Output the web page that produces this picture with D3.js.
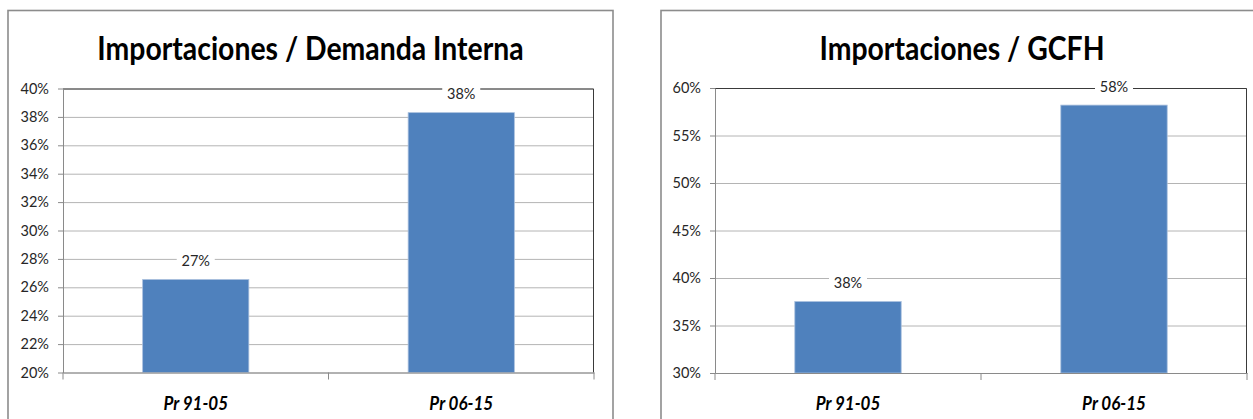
<!DOCTYPE html>
<html>
<head>
<meta charset="utf-8">
<script src="https://cdn.jsdelivr.net/npm/d3@7"></script>
<style>
  html, body { margin: 0; padding: 0; background: #ffffff; }
  svg { display: block; }
  text { font-family: Lato, "Open Sans", sans-serif; }
</style>
</head>
<body>
<svg id="chart" width="1253" height="419"></svg>
<script>
// Import ratios by period
const categories = ["Pr 91-05", "Pr 06-15"];
const demandValues = [0.2655, 0.383];   // imports / domestic demand
const gcfhValues = [0.3752, 0.582];     // imports / GCFH
const demandTicks = [0.20, 0.22, 0.24, 0.26, 0.28, 0.30, 0.32, 0.34, 0.36, 0.38, 0.40];
const gcfhTicks = [0.30, 0.35, 0.40, 0.45, 0.50, 0.55, 0.60];
const titles = ["Importaciones / Demanda Interna", "Importaciones / GCFH"];

// Panel layout
const panels = [
  { frame: [8, 10.5, 605, 420], plot: { left: 63, right: 594, top: 88.5, bottom: 372.5 },
    values: demandValues, ticks: demandTicks, title: titles[0] },
  { frame: [661, 10.5, 602, 420], plot: { left: 715, right: 1247, top: 88, bottom: 373 },
    values: gcfhValues, ticks: gcfhTicks, title: titles[1] }
];

const pct = d3.format(".0%");
const svg = d3.select("#chart");

panels.forEach(p => {
  const g = svg.append("g");
  const [fx, fy, fw, fh] = p.frame;
  const { left, right, top, bottom } = p.plot;

  // chart frame
  g.append("rect")
    .attr("x", fx).attr("y", fy).attr("width", fw).attr("height", fh)
    .attr("fill", "#ffffff").attr("stroke", "#8c8c8c").attr("stroke-width", 1.6);

  // title (narrowed to a Calibri-like width)
  g.append("text")
    .attr("transform", `translate(${fx + fw / 2},60) scale(0.86,1)`)
    .attr("text-anchor", "middle")
    .attr("font-size", 33).attr("font-weight", 700)
    .attr("fill", "#000000")
    .text(p.title);

  const y = d3.scaleLinear()
    .domain([d3.min(p.ticks), d3.max(p.ticks)])
    .range([bottom, top]);
  const x = d3.scaleBand()
    .domain(categories)
    .range([left, right])
    .paddingInner(0.6).paddingOuter(0.3);

  // gridlines
  const grid = g.append("g")
    .attr("transform", `translate(${left},0)`)
    .call(d3.axisLeft(y).tickValues(p.ticks).tickSize(-(right - left)).tickFormat(""));
  grid.select(".domain").remove();
  grid.selectAll(".tick line").attr("stroke", "#b4b4b4").attr("stroke-width", 1);

  // plot area border (top and right)
  g.append("path")
    .attr("d", `M${left},${top + 0.5}H${right - 0.5}V${bottom}`)
    .attr("fill", "none").attr("stroke", "#3a3a3a").attr("stroke-width", 1);

  // bars
  g.selectAll("rect.bar")
    .data(p.values)
    .join("rect")
    .attr("class", "bar")
    .attr("x", (d, i) => x(categories[i]))
    .attr("width", x.bandwidth())
    .attr("y", d => y(d))
    .attr("height", d => y(y.domain()[0]) - y(d))
    .attr("fill", "#4f81bd")
    .attr("stroke", "#a9c0de").attr("stroke-width", 0.8);

  // y axis
  const yAxis = g.append("g")
    .attr("transform", `translate(${left},0)`)
    .call(d3.axisLeft(y).tickValues(p.ticks).tickFormat(pct).tickSize(5).tickSizeOuter(0).tickPadding(9));
  yAxis.select(".domain").attr("stroke", "#8a8a8a");
  yAxis.selectAll(".tick line").attr("stroke", "#8a8a8a");
  yAxis.selectAll(".tick text")
    .attr("font-size", 14.5).attr("fill", "#262626")
    .attr("font-family", "Lato, sans-serif");

  // x axis with ticks at category boundaries
  const xAxis = g.append("g")
    .attr("transform", `translate(0,${bottom})`)
    .call(d3.axisBottom(x).tickSize(0).tickFormat(""));
  xAxis.select(".domain").attr("stroke", "#8a8a8a");
  g.selectAll("text.cat")
    .data(categories)
    .join("text")
    .attr("class", "cat")
    .attr("transform", d => `translate(${x(d) + x.bandwidth() / 2},${bottom + 37}) scale(0.92,1)`)
    .attr("text-anchor", "middle")
    .attr("font-size", 18.5).attr("font-weight", 700).attr("font-style", "italic")
    .attr("fill", "#000000")
    .text(d => d);
  const step = (right - left) / categories.length;
  g.selectAll("line.cat-tick")
    .data(d3.range(categories.length + 1))
    .join("line")
    .attr("class", "cat-tick")
    .attr("x1", i => left + i * step).attr("x2", i => left + i * step)
    .attr("y1", bottom).attr("y2", bottom + 7)
    .attr("stroke", "#8a8a8a");

  // data labels with white backing
  const labels = g.selectAll("g.label")
    .data(p.values)
    .join("g")
    .attr("class", "label")
    .attr("transform", (d, i) => `translate(${x(categories[i]) + x.bandwidth() / 2},${y(d) - 18.5})`);
  labels.append("rect")
    .attr("x", -19).attr("y", -9).attr("width", 38).attr("height", 18)
    .attr("fill", "#ffffff");
  labels.append("text")
    .attr("text-anchor", "middle").attr("dy", "0.35em")
    .attr("font-size", 14.5).attr("fill", "#262626")
    .text(d => pct(d));
});
</script>
</body>
</html>
